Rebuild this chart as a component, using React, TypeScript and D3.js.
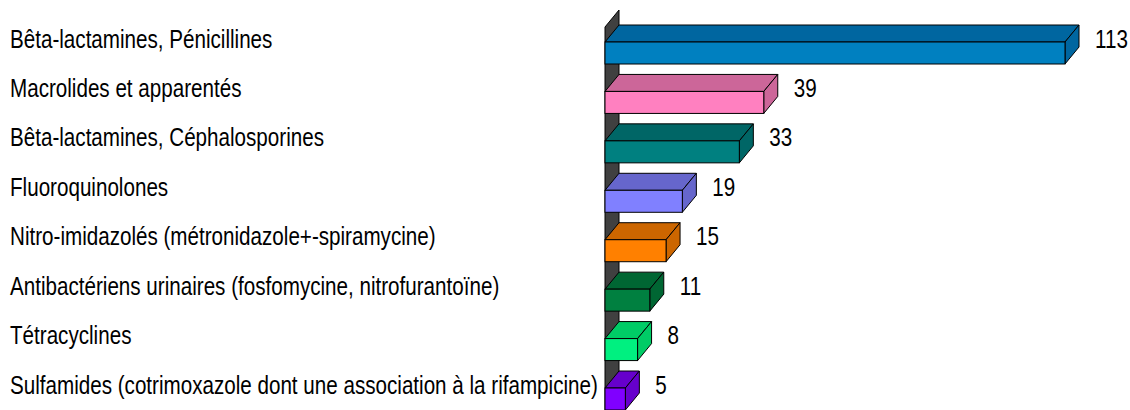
import React, { useEffect, useRef } from 'react';
import * as d3 from 'd3';

const categories = [
  'Bêta-lactamines, Pénicillines',
  'Macrolides et apparentés',
  'Bêta-lactamines, Céphalosporines',
  'Fluoroquinolones',
  'Nitro-imidazolés (métronidazole+-spiramycine)',
  'Antibactériens urinaires (fosfomycine, nitrofurantoïne)',
  'Tétracyclines',
  'Sulfamides (cotrimoxazole dont une association à la rifampicine)',
];
const values = [113, 39, 33, 19, 15, 11, 8, 5];
const frontColors = ['#0080C0', '#FF80C0', '#008080', '#8080FF', '#FF8000', '#008040', '#00F080', '#8000FF'];
const shadeColors = ['#0066A0', '#CC6699', '#006666', '#6666CC', '#CC6600', '#006633', '#00CC66', '#6600CC'];

const width = 1130;
const height = 410;
const depthX = 14;
const depthY = 17;
const barH = 22;
const fontSize = 25;
const squeeze = 0.825; // the original font is narrow

const App: React.FC = () => {
  const svgRef = useRef<SVGSVGElement>(null);

  useEffect(() => {
    if (!svgRef.current) return;
    const svg = d3.select(svgRef.current);
    svg.selectAll('*').remove();

    const x = d3.scaleLinear().domain([0, 113]).range([605, 1065]);
    const y = d3.scalePoint<string>().domain(categories).range([42, 388]);
    const x0 = x(0);

    const label = (px: number, py: number, s: string | number) =>
      svg.append('g')
        .attr('transform', `translate(${px},${py}) scale(${squeeze},1)`)
        .append('text')
        .attr('dominant-baseline', 'middle')
        .attr('font-family', 'Liberation Sans, Arial, sans-serif')
        .attr('font-size', fontSize)
        .attr('fill', '#000')
        .text(s);

    // left wall
    svg.append('polygon')
      .attr('points', `${x0},${height + 20} ${x0},${10 + depthY} ${x0 + depthX},10 ${x0 + depthX},${height + 20}`)
      .attr('fill', '#404040')
      .attr('stroke', '#000')
      .attr('stroke-width', 1);

    categories.forEach((c, i) => {
      const top = y(c) as number;
      const x1 = x(values[i]);
      const bar = svg.append('g');
      // top face
      bar.append('polygon')
        .attr('points', `${x0},${top} ${x0 + depthX},${top - depthY} ${x1 + depthX},${top - depthY} ${x1},${top}`)
        .attr('fill', shadeColors[i])
        .attr('stroke', '#000');
      // side face
      bar.append('polygon')
        .attr('points', `${x1},${top} ${x1 + depthX},${top - depthY} ${x1 + depthX},${top - depthY + barH} ${x1},${top + barH}`)
        .attr('fill', shadeColors[i])
        .attr('stroke', '#000');
      // front face
      bar.append('rect')
        .attr('x', x0)
        .attr('y', top)
        .attr('width', x1 - x0)
        .attr('height', barH)
        .attr('fill', frontColors[i])
        .attr('stroke', '#000');

      label(x1 + depthX + 16, top - 1, values[i]);
      label(10, top - 1, c);
    });
  }, []);

  return (
    <svg
      ref={svgRef}
      width={width}
      height={height}
      style={{ position: 'absolute', left: 0, top: 0, background: '#fff' }}
    />
  );
};

export default App;
